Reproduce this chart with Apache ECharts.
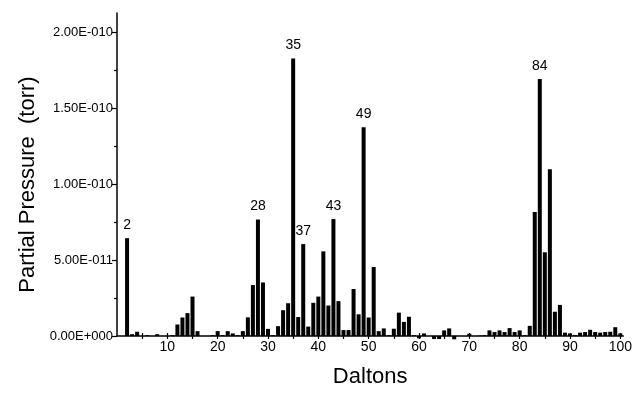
<!DOCTYPE html>
<html><head><meta charset="utf-8">
<script src="https://cdn.jsdelivr.net/npm/echarts@6/dist/echarts.min.js"></script>
<style>html,body{margin:0;padding:0;background:#fff}#c{width:635px;height:393px}</style>
</head><body><div id="c"></div>
<script>
// Mass number (Daltons)
const daltons = [1,2,3,4,5,6,7,8,9,10,11,12,13,14,15,16,17,18,19,20,
  21,22,23,24,25,26,27,28,29,30,31,32,33,34,35,36,37,38,39,40,
  41,42,43,44,45,46,47,48,49,50,51,52,53,54,55,56,57,58,59,60,
  61,62,63,64,65,66,67,68,69,70,71,72,73,74,75,76,77,78,79,80,
  81,82,83,84,85,86,87,88,89,90,91,92,93,94,95,96,97,98,99,100];
// Partial pressure, in units of 1E-011 torr
const pressureE11 = [0,6.45,0.12,0.28,0,0.05,0,0.12,0,0,
  0.05,0.76,1.22,1.51,2.6,0.32,0,0,0.05,0.32,
  0.05,0.32,0.17,0.05,0.32,1.23,3.36,7.68,3.53,0.47,
  0.05,0.65,1.7,2.16,18.3,1.25,6.06,0.62,2.19,2.6,
  5.58,2.01,7.71,2.3,0.39,0.39,3.1,1.43,13.77,1.22,
  4.55,0.32,0.5,0.05,0.48,1.54,0.93,1.27,0.05,-0.15,
  0.17,0,-0.2,-0.2,0.37,0.5,-0.22,0,0,0.15,
  0,0.02,0.05,0.37,0.26,0.37,0.26,0.52,0.26,0.37,
  0.05,0.67,8.18,16.95,5.52,10.99,1.6,2.05,0.22,0.17,
  0.06,0.22,0.26,0.41,0.26,0.22,0.26,0.28,0.58,0.17];
const peakLabels = [2,28,35,37,43,49,84];
const yTicks = [0,5,10,15,20];
const yTickLabels = ['0.00E+000','5.00E-011','1.00E-010','1.50E-010','2.00E-010'];
const yMinorTicks = [2.5,7.5,12.5,17.5];
const xTicks = [10,20,30,40,50,60,70,80,90,100];
const xAllTicks = [5,10,15,20,25,30,35,40,45,50,55,60,65,70,75,80,85,90,95,100];

const FONT = 'Liberation Sans, Arial, sans-serif';
const chart = echarts.init(document.getElementById('c'), null, {renderer:'canvas'});
const seriesData = daltons.map((d,i)=>({
  value:[d, pressureE11[i]],
  label:{show: peakLabels.indexOf(d) >= 0}
}));
const axisLineStyle = {color:'#000', width:1.5};
chart.setOption({
  animation:false,
  backgroundColor:'#fff',
  grid:{left:117, right:10, top:13, bottom:52, containLabel:false},
  xAxis:[{
    type:'value', min:0, max:100.6, position:'bottom',
    axisLine:{show:true, lineStyle:axisLineStyle},
    axisTick:{show:true, customValues:xAllTicks, length:3, lineStyle:{color:'#000', width:1.2}},
    axisLabel:{customValues:xTicks, color:'#000', fontSize:14, fontFamily:FONT, margin:4},
    splitLine:{show:false},
    name:'Daltons', nameLocation:'middle', nameGap:30,
    nameTextStyle:{fontSize:22, color:'#000', fontFamily:FONT}
  },{
    type:'value', min:0, max:100.6, position:'bottom',
    axisLine:{show:false},
    axisTick:{show:true, inside:true, customValues:xAllTicks, length:3, lineStyle:{color:'#000', width:1.2}},
    axisLabel:{show:false}, splitLine:{show:false}
  }],
  yAxis:[{
    type:'value', min:0, max:21.3, position:'left',
    axisLine:{show:true, lineStyle:axisLineStyle},
    axisTick:{show:true, customValues:yTicks, length:5, lineStyle:{color:'#000', width:1.2}},
    axisLabel:{customValues:yTicks, color:'#000', fontSize:13, fontFamily:FONT, margin:4,
      formatter:(v)=>yTickLabels[yTicks.indexOf(v)]},
    splitLine:{show:false},
    name:'Partial Pressure  (torr)', nameLocation:'middle', nameGap:78,
    nameTextStyle:{fontSize:22, color:'#000', fontFamily:FONT, padding:[0,20,0,0]}
  },{
    type:'value', min:0, max:21.3, position:'left',
    axisLine:{show:false},
    axisTick:{show:true, customValues:yMinorTicks, length:3, lineStyle:{color:'#000', width:1.2}},
    axisLabel:{show:false}, splitLine:{show:false}
  }],
  series:[{
    type:'bar', xAxisIndex:0, yAxisIndex:0,
    data:seriesData, barWidth:4, clip:false,
    itemStyle:{color:'#000'},
    label:{position:'top', distance:6, color:'#000', fontSize:14, fontFamily:FONT,
      formatter:(p)=>String(p.value[0])}
  }]
});
</script></body></html>
